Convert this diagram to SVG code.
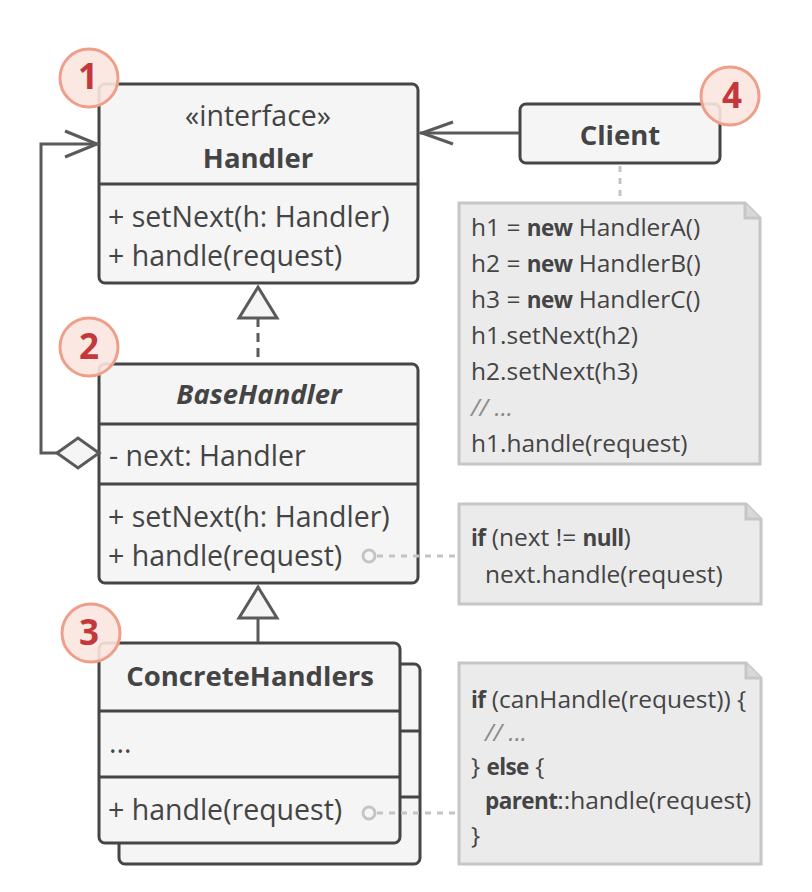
<svg xmlns="http://www.w3.org/2000/svg" width="812" height="892" viewBox="0 0 812 892">
<defs>
<style>
.box{fill:#f5f5f5;stroke:#454545;stroke-width:3}
.div{stroke:#454545;stroke-width:3}
.t{font-family:"Open Sans","Liberation Sans",sans-serif;font-size:28.5px;fill:#444}
.b{font-weight:bold;font-size:27.5px}
.note{fill:#ebebeb;stroke:#c6c6c6;stroke-width:3}
.nt{font-family:"Open Sans","Liberation Sans",sans-serif;font-size:24.5px;fill:#444}
.nb{font-weight:bold;font-size:22.5px;letter-spacing:-0.6px}
.cm{fill:#8a8a8a;font-style:italic}
.ln{fill:none;stroke:#5a5a5a;stroke-width:3}
.dl{fill:none;stroke:#c4c4c4;stroke-width:3;stroke-dasharray:6 6}
.badge{fill:#fbe5e0;fill-opacity:0.9;stroke:#ef9f89;stroke-width:3}
.bn{font-family:"Open Sans","Liberation Sans",sans-serif;font-size:35px;font-weight:bold;fill:#c4373a;text-anchor:middle}
</style>
</defs>

<g id="handler">
  <rect class="box" x="99" y="84" width="319" height="199" rx="6"/>
  <line class="div" x1="99" y1="184" x2="418" y2="184"/>
  <text class="t" x="258" y="126" text-anchor="middle">«interface»</text>
  <text class="t b" x="258" y="168" text-anchor="middle">Handler</text>
  <text class="t" x="108" y="227">+ setNext(h: Handler)</text>
  <text class="t" x="108" y="266">+ handle(request)</text>
</g>

<g id="basehandler">
  <rect class="box" x="99" y="364" width="319" height="219" rx="6"/>
  <line class="div" x1="99" y1="424" x2="418" y2="424"/>
  <line class="div" x1="99" y1="484" x2="418" y2="484"/>
  <text class="t b" x="259" y="404" text-anchor="middle" font-style="italic">BaseHandler</text>
  <text class="t" x="109" y="466">- next: Handler</text>
  <text class="t" x="108" y="527">+ setNext(h: Handler)</text>
  <text class="t" x="108" y="566">+ handle(request)</text>
</g>

<g id="concretehandlers">
  <rect class="box" x="119" y="664" width="301" height="200" rx="6"/>
  <line class="div" x1="119" y1="731" x2="420" y2="731"/>
  <line class="div" x1="119" y1="797" x2="420" y2="797"/>
  <rect class="box" x="99" y="643" width="301" height="200" rx="6"/>
  <line class="div" x1="99" y1="711" x2="400" y2="711"/>
  <line class="div" x1="99" y1="777" x2="400" y2="777"/>
  <text class="t b" x="250" y="686" text-anchor="middle">ConcreteHandlers</text>
  <text class="t" x="109" y="753">...</text>
  <text class="t" x="108" y="820">+ handle(request)</text>
</g>

<g id="client">
  <rect class="box" x="520" y="104" width="200" height="59" rx="6"/>
  <text class="t b" x="620" y="145" text-anchor="middle">Client</text>
</g>

<g id="note-client">
  <path class="note" d="M459,203 H745 L760,218 V464 H459 Z"/>
  <path d="M745,203 V218 H760" fill="#d8d8d8" stroke="#c6c6c6" stroke-width="3"/>
  <text class="nt" x="471" y="236">h1 = <tspan class="nb">new</tspan> HandlerA()</text>
  <text class="nt" x="471" y="272">h2 = <tspan class="nb">new</tspan> HandlerB()</text>
  <text class="nt" x="471" y="308">h3 = <tspan class="nb">new</tspan> HandlerC()</text>
  <text class="nt" x="471" y="344">h1.setNext(h2)</text>
  <text class="nt" x="471" y="380">h2.setNext(h3)</text>
  <text class="nt cm" x="471" y="416">// ...</text>
  <text class="nt" x="471" y="452">h1.handle(request)</text>
</g>

<g id="note-base">
  <path class="note" d="M459,504 H746 L761,519 V604 H459 Z"/>
  <path d="M746,504 V519 H761" fill="#d8d8d8" stroke="#c6c6c6" stroke-width="3"/>
  <text class="nt" x="471" y="546"><tspan class="nb">if</tspan> (next != <tspan class="nb">null</tspan>)</text>
  <text class="nt" x="485" y="583">next.handle(request)</text>
</g>

<g id="note-concrete">
  <path class="note" d="M459,663 H746 L761,678 V864 H459 Z"/>
  <path d="M746,663 V678 H761" fill="#d8d8d8" stroke="#c6c6c6" stroke-width="3"/>
  <text class="nt" x="471" y="708"><tspan class="nb">if</tspan> (canHandle(request)) {</text>
  <text class="nt cm" x="485" y="741">// ...</text>
  <text class="nt" x="471" y="775">} <tspan class="nb">else</tspan> {</text>
  <text class="nt" x="485" y="809"><tspan class="nb">parent</tspan>::handle(request)</text>
  <text class="nt" x="471" y="844">}</text>
</g>

<g id="connectors">
  <polyline class="ln" points="57,453 41,453 41,144 97,144"/>
  <polyline class="ln" points="65,131 97,144 65,157"/>
  <polygon points="57,453 78,438 99,453 78,468" fill="#f5f5f5" stroke="#5a5a5a" stroke-width="3"/>
  <line x1="258" y1="318" x2="258" y2="363" stroke="#5a5a5a" stroke-width="3" stroke-dasharray="9 6"/>
  <polygon points="258,287 277,318 239,318" fill="#f5f5f5" stroke="#5a5a5a" stroke-width="3"/>
  <line x1="258" y1="618" x2="258" y2="642" stroke="#5a5a5a" stroke-width="3"/>
  <polygon points="258,587 277,618 239,618" fill="#f5f5f5" stroke="#5a5a5a" stroke-width="3"/>
  <line x1="420" y1="133" x2="519" y2="133" stroke="#5a5a5a" stroke-width="3"/>
  <polyline class="ln" points="453,122 422,133 453,144"/>
  <line class="dl" x1="620" y1="166" x2="620" y2="203"/>
  <line class="dl" x1="377" y1="556" x2="459" y2="556"/>
  <line class="dl" x1="377" y1="813" x2="459" y2="813"/>
  <circle cx="369" cy="556" r="6" fill="#f5f5f5" stroke="#c4c4c4" stroke-width="3"/>
  <circle cx="369" cy="813" r="6" fill="#f5f5f5" stroke="#c4c4c4" stroke-width="3"/>
</g>

<g id="badge-1">
  <circle class="badge" cx="89" cy="78" r="29"/>
  <text class="bn" x="88" y="89">1</text>
</g>
<g id="badge-2">
  <circle class="badge" cx="89" cy="347" r="29"/>
  <text class="bn" x="89" y="359">2</text>
</g>
<g id="badge-3">
  <circle class="badge" cx="91" cy="633" r="29"/>
  <text class="bn" x="89" y="645">3</text>
</g>
<g id="badge-4">
  <circle class="badge" cx="730" cy="96" r="29"/>
  <text class="bn" x="732" y="108">4</text>
</g>
</svg>
